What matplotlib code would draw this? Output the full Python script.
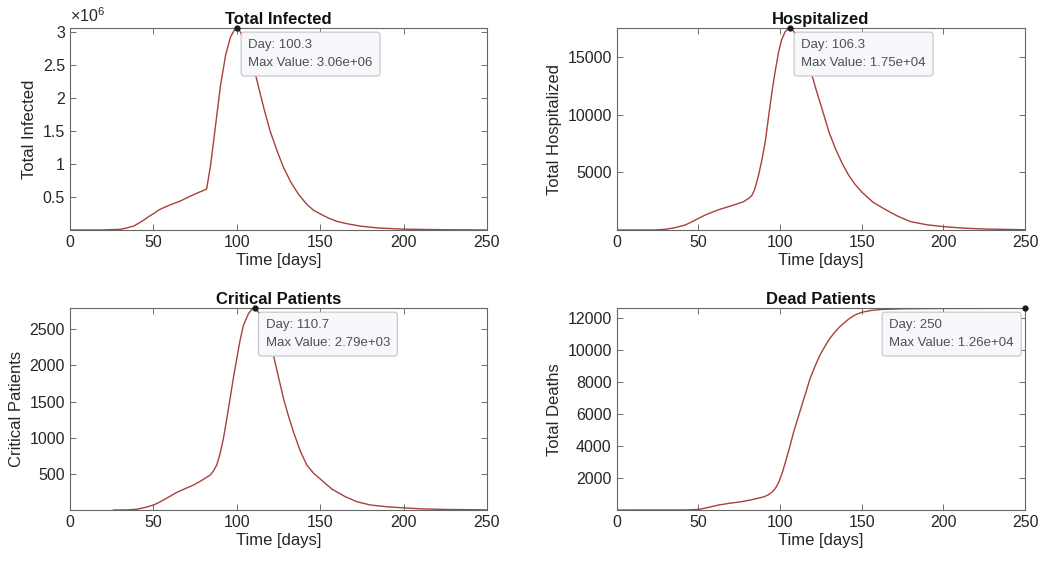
import numpy as np
import matplotlib.pyplot as plt

plt.rcParams['font.family'] = ['Liberation Sans', 'DejaVu Sans']
plt.rcParams['mathtext.fontset'] = 'custom'
plt.rcParams['mathtext.rm'] = 'Liberation Sans'

# values
inf_days = [0, 20, 30.3, 34, 38.3, 41, 44.3, 47, 50.3, 53, 56.3, 61, 66.3, 71, 76.3, 81.9,
            84.3, 87.3, 90.3, 93.3, 96.3, 98.5, 100.3, 102, 104, 106, 108.5, 111.3,
            116.3, 120, 124.3, 128, 132.3, 137, 142.3, 146, 150.3, 155, 160, 167,
            175, 185, 200, 225, 250]
inf_vals = [0, 0, 0.01, 0.03, 0.06, 0.1, 0.15, 0.2, 0.25, 0.3, 0.34, 0.39, 0.44, 0.5, 0.56, 0.62,
            0.98, 1.59, 2.2, 2.65, 2.93, 3.03, 3.06, 3.01, 2.9, 2.76, 2.58, 2.35,
            1.84, 1.5, 1.19, 0.95, 0.73, 0.54, 0.38, 0.3, 0.24, 0.18, 0.13, 0.09,
            0.055, 0.03, 0.012, 0.003, 0.0]
inf_vals = np.array(inf_vals) * 1e6

hosp_days = [0, 23.6, 30, 35.9, 42, 46, 50.2, 54, 58.3, 63, 68.5, 73, 77.7, 81, 82.8,
             84.5, 86.9, 89, 91, 93, 95.1, 97, 99.2, 101, 103.2, 105, 106.3, 108, 110,
             113, 116, 119.6, 122.5, 125.7, 130, 133.9, 138, 142, 146, 150, 157, 165,
             172, 180, 190, 200, 212, 225, 250]
hosp_vals = [0, 0, 60, 200, 430, 700, 1010, 1280, 1530, 1780, 2020, 2230, 2450, 2750, 3000,
             3500, 4760, 6100, 7650, 9800, 11980, 13700, 15450, 16500, 17200, 17450, 17500, 17300, 16900,
             16000, 14800, 13420, 12000, 10530, 8500, 7070, 5800, 4760, 3950, 3300, 2400, 1730,
             1200, 720, 450, 290, 160, 80, 20]

crit_days = [26, 34, 40, 45, 50, 53, 56, 60, 64, 69, 74, 79, 84, 86, 88, 90, 92, 94, 96,
             98, 100, 102, 104, 107, 109, 110.7, 113, 116, 119, 122, 125, 128, 131, 134,
             138, 142, 146, 150, 157, 165, 172, 180, 190, 200, 212, 225, 250]
crit_vals = [0, 2, 10, 35, 69, 100, 138, 190, 244, 295, 345, 410, 483, 540, 622, 780, 990, 1260, 1543,
             1830, 2095, 2350, 2555, 2717, 2775, 2790, 2740, 2600, 2400, 2140, 1840, 1543, 1300, 1081,
             820, 622, 510, 430, 290, 185, 115, 70, 45, 30, 15, 8, 2]

dead_days = [0, 42.4, 50.4, 56, 62.4, 69, 76.4, 83, 90.4, 93, 95.4, 97.5, 99.4, 101.5,
             103.4, 106, 108.4, 111, 113.4, 116, 118.4, 121.5, 124.4, 127.5, 130.4,
             133.5, 136.4, 139.5, 142.4, 146, 150.4, 156, 162.4, 175, 200, 250]
dead_vals = [0, 5, 40, 160, 312, 420, 520, 650, 832, 960, 1143, 1400, 1767, 2350,
             3013, 3950, 4885, 5750, 6550, 7400, 8215, 9000, 9670, 10230, 10710,
             11110, 11435, 11720, 11960, 12200, 12370, 12480, 12540, 12580, 12600, 12610]

panels = [
    ('Total Infected', 'Total Infected', inf_days, inf_vals,
     [0.5e6, 1e6, 1.5e6, 2e6, 2.5e6, 3e6], ['0.5', '1', '1.5', '2', '2.5', '3'],
     100.3, 3.06e6, 'Day: 100.3\nMax Value: 3.06e+06'),
    ('Hospitalized', 'Total Hospitalized', hosp_days, hosp_vals,
     [5000, 10000, 15000], None,
     106.3, 17500, 'Day: 106.3\nMax Value: 1.75e+04'),
    ('Critical Patients', 'Critical Patients', crit_days, crit_vals,
     [500, 1000, 1500, 2000, 2500], None,
     110.7, 2790, 'Day: 110.7\nMax Value: 2.79e+03'),
    ('Dead Patients', 'Total Deaths', dead_days, dead_vals,
     [2000, 4000, 6000, 8000, 10000, 12000], None,
     250, 12610, 'Day: 250\nMax Value: 1.26e+04'),
]

fig = plt.figure(figsize=(10.54, 5.65), dpi=100)
positions = [[0.0664, 0.593, 0.3956, 0.357],
             [0.585, 0.593, 0.3875, 0.357],
             [0.0664, 0.0973, 0.3956, 0.357],
             [0.585, 0.0973, 0.3875, 0.357]]

for pos, (title, ylab, days, vals, yt, ytl, pk_t, pk_v, tip) in zip(positions, panels):
    ax = fig.add_axes(pos)
    ax.plot(days, vals, color='#a8403c', lw=1.0)
    ax.set_xlim(0, 250)
    ax.set_ylim(0, pk_v)
    ax.set_xticks([0, 50, 100, 150, 200, 250])
    ax.set_yticks(yt)
    if ytl is not None:
        ax.set_yticklabels(ytl)
    ax.tick_params(direction='in', top=True, right=True, length=4, width=0.6,
                   labelsize=11.5, colors='#555555', labelcolor='#262626')
    for s in ax.spines.values():
        s.set_color('#666666')
        s.set_linewidth(0.8)
    ax.set_title(title, fontsize=12, fontweight='bold', pad=3, color='#111111')
    ax.set_xlabel('Time [days]', fontsize=12, color='#262626', labelpad=2)
    ax.set_ylabel(ylab, fontsize=12, color='#262626', labelpad=4)

    # data tip
    ax.plot([pk_t], [pk_v], 'o', color='#1a1a1a', ms=3.5, clip_on=False, zorder=7)
    if pk_t > 200:
        off, ha = (-8, -8), 'right'
    else:
        off, ha = (8, -8), 'left'
    ax.annotate(tip, xy=(pk_t, pk_v), xytext=off, textcoords='offset points',
                ha=ha, va='top', multialignment='left', fontsize=9.5, color='#505050',
                linespacing=1.6, zorder=6, annotation_clip=False,
                bbox=dict(boxstyle='round,pad=0.55,rounding_size=0.25',
                          fc='#f7f8fc', ec='#c4c4c4', lw=0.8))

    if title == 'Total Infected':
        ax.text(0.0, 1.015, r'$\times10^{6}$', transform=ax.transAxes,
                fontsize=11.5, color='#262626', ha='left', va='bottom')

fig.savefig('out.png', dpi=100)
